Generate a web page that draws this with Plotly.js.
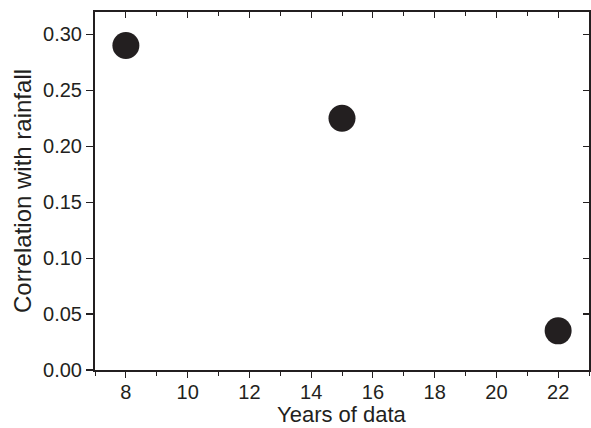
<!DOCTYPE html>
<html><head><meta charset="utf-8">
<script src="https://cdn.plot.ly/plotly-3.0.1.min.js"></script>
<style>html,body{margin:0;padding:0;background:#fff}#chart{width:591px;height:428px}</style>
</head><body><div id="chart"></div>
<script>
var years = [8, 15, 22];
var correlation = [0.29, 0.225, 0.035];
var xTicks = [8, 10, 12, 14, 16, 18, 20, 22];
var yTicks = [0, 0.05, 0.10, 0.15, 0.20, 0.25, 0.30];
var yTickLabels = ['0.00','0.05','0.10','0.15','0.20','0.25','0.30'];
var xTitle = 'Years of data';
var yTitle = 'Correlation with rainfall';

var ink = '#231f20';
var fam = 'Liberation Sans, Arial, sans-serif';
function tf() { return {family: fam, size: 20, color: ink}; }
function ttf(s) { return {family: fam, size: s, color: ink}; }

var traces = [
  {x: years, y: correlation, type: 'scatter', mode: 'markers',
   marker: {size: 27, color: ink}, hoverinfo: 'skip', showlegend: false},
  {x: years, y: correlation, xaxis: 'x2', yaxis: 'y2', type: 'scatter', mode: 'markers',
   marker: {size: 1, opacity: 0}, hoverinfo: 'skip', showlegend: false}
];

var layout = {
  width: 591, height: 428,
  margin: {l: 95, r: 2, t: 12, b: 58},
  paper_bgcolor: '#fff', plot_bgcolor: '#fff',
  font: tf(),
  xaxis: {range: [7, 23], tickvals: xTicks, ticks: 'outside', ticklen: 6, tickwidth: 1.2,
    tickcolor: ink, showgrid: false, zeroline: false, showline: true, linewidth: 2, linecolor: ink,
    minor: {dtick: 1, tick0: 7, ticks: 'outside', ticklen: 3.5, tickwidth: 1, tickcolor: ink},
    tickfont: tf(), ticklabelstandoff: -3, automargin: false},
  yaxis: {range: [0, 0.32], tickvals: yTicks, ticktext: yTickLabels, ticks: 'outside', ticklen: 7,
    tickwidth: 1.2, tickcolor: ink, showgrid: false, zeroline: false, showline: true, linewidth: 2,
    linecolor: ink, tickfont: tf(), automargin: false,
    title: {text: yTitle, font: ttf(24), standoff: 5}},
  xaxis2: {overlaying: 'x', side: 'top', range: [7, 23], tickvals: xTicks, ticks: 'inside', ticklen: 6,
    tickwidth: 1.2, tickcolor: ink, showticklabels: false, showgrid: false, zeroline: false,
    showline: true, linewidth: 2, linecolor: ink,
    minor: {dtick: 1, tick0: 7, ticks: 'inside', ticklen: 3.5, tickwidth: 1, tickcolor: ink}},
  yaxis2: {overlaying: 'y', side: 'right', range: [0, 0.32], tickvals: yTicks, ticks: 'inside', ticklen: 6,
    tickwidth: 1.2, tickcolor: ink, showticklabels: false, showgrid: false, zeroline: false,
    showline: true, linewidth: 2, linecolor: ink},
  annotations: [{text: xTitle, font: ttf(22), xref: 'paper', yref: 'paper', x: 0.5, y: -58 / 358,
    xanchor: 'center', yanchor: 'bottom', borderpad: 0, showarrow: false}]
};

Plotly.newPlot('chart', traces, layout, {displayModeBar: false, staticPlot: true});
</script>
</body></html>
